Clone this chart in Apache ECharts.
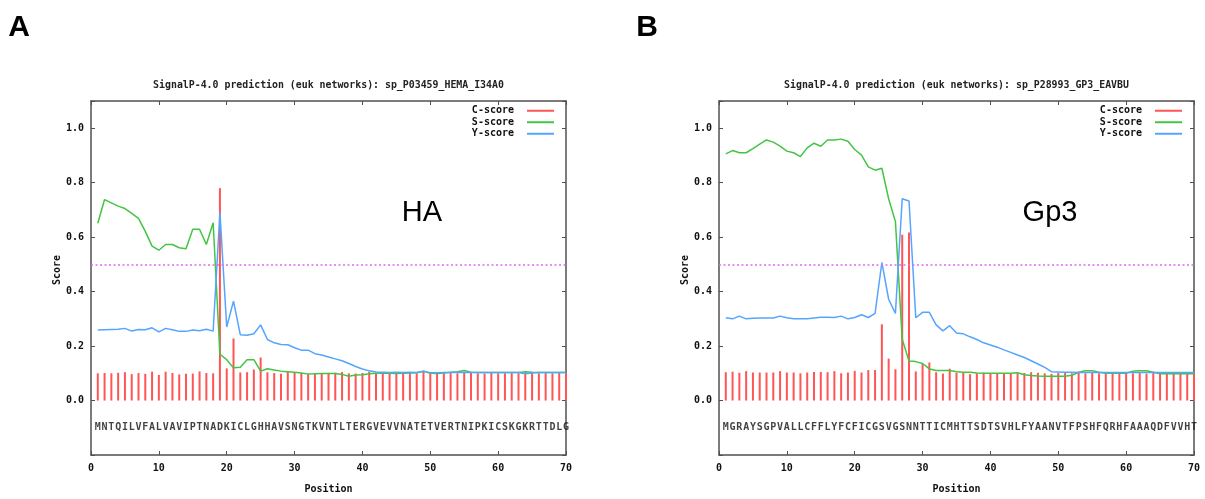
<!DOCTYPE html>
<html>
<head>
<meta charset="utf-8">
<title>SignalP-4.0 prediction</title>
<script src="https://cdn.jsdelivr.net/npm/echarts@6/dist/echarts.min.js"></script>
<style>
    html, body { margin: 0; padding: 0; background: #fff; }
    #chart { width: 1205px; height: 499px; }
</style>
</head>
<body>
<div id="chart"></div>
<script>
    // ---- data ----
    let xTicks = [0, 10, 20, 30, 40, 50, 60, 70];
    let yTicks = [0.0, 0.2, 0.4, 0.6, 0.8, 1.0];
    let threshold = 0.5;
    let seqLevel = -0.1;

    // panel A: HA
    let titleA = 'SignalP-4.0 prediction (euk networks): sp_P03459_HEMA_I34A0';
    let seqA = 'MNTQILVFALVAVIPTNADKICLGHHAVSNGTKVNTLTERGVEVVNATETVERTNIPKICSKGKRTTDLG';
    let cScoreA = [0.100, 0.101, 0.100, 0.102, 0.104, 0.097, 0.101, 0.098, 0.106, 0.094,
        0.106, 0.101, 0.096, 0.098, 0.099, 0.107, 0.101, 0.100, 0.780, 0.118,
        0.228, 0.103, 0.104, 0.114, 0.158, 0.104, 0.101, 0.098, 0.105, 0.102,
        0.101, 0.099, 0.100, 0.098, 0.100, 0.102, 0.105, 0.100, 0.099, 0.101,
        0.106, 0.100, 0.104, 0.099, 0.100, 0.105, 0.101, 0.100, 0.110, 0.101,
        0.099, 0.100, 0.101, 0.100, 0.104, 0.104, 0.100, 0.099, 0.101, 0.100,
        0.100, 0.101, 0.100, 0.104, 0.104, 0.100, 0.101, 0.100, 0.101, 0.100];
    let sScoreA = [0.651, 0.738, 0.726, 0.714, 0.705, 0.687, 0.669, 0.621, 0.567, 0.552,
        0.573, 0.573, 0.561, 0.557, 0.629, 0.629, 0.573, 0.653, 0.170, 0.150,
        0.120, 0.122, 0.150, 0.150, 0.108, 0.117, 0.112, 0.108, 0.106, 0.104,
        0.101, 0.097, 0.098, 0.099, 0.099, 0.099, 0.096, 0.089, 0.094, 0.095,
        0.098, 0.100, 0.100, 0.100, 0.099, 0.100, 0.101, 0.102, 0.107, 0.100,
        0.099, 0.101, 0.104, 0.106, 0.110, 0.104, 0.103, 0.103, 0.103, 0.103,
        0.103, 0.103, 0.103, 0.106, 0.104, 0.103, 0.103, 0.103, 0.103, 0.103];
    let yScoreA = [0.259, 0.260, 0.261, 0.262, 0.265, 0.255, 0.261, 0.260, 0.267, 0.252,
        0.265, 0.260, 0.254, 0.254, 0.259, 0.256, 0.262, 0.255, 0.690, 0.270,
        0.365, 0.242, 0.240, 0.245, 0.278, 0.224, 0.212, 0.206, 0.205, 0.194,
        0.185, 0.185, 0.172, 0.167, 0.160, 0.153, 0.146, 0.136, 0.125, 0.116,
        0.109, 0.105, 0.104, 0.103, 0.104, 0.103, 0.104, 0.103, 0.108, 0.102,
        0.102, 0.103, 0.103, 0.103, 0.104, 0.103, 0.103, 0.103, 0.103, 0.103,
        0.103, 0.103, 0.103, 0.098, 0.101, 0.103, 0.103, 0.103, 0.103, 0.103];

    // panel B: Gp3
    let titleB = 'SignalP-4.0 prediction (euk networks): sp_P28993_GP3_EAVBU';
    let seqB = 'MGRAYSGPVALLCFFLYFCFICGSVGSNNTTICMHTTSDTSVHLFYAANVTFPSHFQRHFAAAQDFVVHT';
    let cScoreB = [0.104, 0.106, 0.102, 0.108, 0.103, 0.103, 0.103, 0.103, 0.108, 0.103,
        0.103, 0.100, 0.103, 0.105, 0.105, 0.104, 0.108, 0.100, 0.103, 0.109,
        0.103, 0.112, 0.112, 0.280, 0.154, 0.115, 0.609, 0.617, 0.107, 0.134,
        0.140, 0.104, 0.099, 0.117, 0.102, 0.104, 0.097, 0.100, 0.102, 0.098,
        0.100, 0.097, 0.101, 0.100, 0.101, 0.104, 0.102, 0.100, 0.098, 0.101,
        0.101, 0.100, 0.104, 0.100, 0.101, 0.100, 0.100, 0.101, 0.100, 0.101,
        0.100, 0.101, 0.099, 0.101, 0.100, 0.101, 0.100, 0.101, 0.100, 0.101];
    let sScoreB = [0.906, 0.918, 0.910, 0.910, 0.925, 0.942, 0.957, 0.949, 0.934, 0.916,
        0.910, 0.896, 0.928, 0.945, 0.934, 0.957, 0.957, 0.960, 0.952, 0.922,
        0.901, 0.858, 0.846, 0.853, 0.741, 0.657, 0.225, 0.145, 0.143, 0.136,
        0.116, 0.110, 0.110, 0.110, 0.106, 0.104, 0.104, 0.101, 0.100, 0.100,
        0.100, 0.100, 0.100, 0.102, 0.095, 0.092, 0.090, 0.089, 0.089, 0.089,
        0.089, 0.093, 0.104, 0.109, 0.109, 0.104, 0.100, 0.100, 0.100, 0.100,
        0.108, 0.109, 0.109, 0.104, 0.098, 0.098, 0.098, 0.098, 0.098, 0.098];
    let yScoreB = [0.304, 0.300, 0.310, 0.300, 0.302, 0.303, 0.303, 0.303, 0.310, 0.304,
        0.300, 0.300, 0.300, 0.303, 0.306, 0.306, 0.305, 0.310, 0.300, 0.305,
        0.315, 0.305, 0.320, 0.507, 0.372, 0.320, 0.741, 0.733, 0.304, 0.324,
        0.324, 0.278, 0.256, 0.275, 0.248, 0.245, 0.234, 0.224, 0.212, 0.204,
        0.196, 0.186, 0.177, 0.167, 0.158, 0.146, 0.134, 0.122, 0.106, 0.105,
        0.104, 0.104, 0.103, 0.103, 0.103, 0.103, 0.103, 0.103, 0.103, 0.103,
        0.103, 0.103, 0.103, 0.103, 0.103, 0.103, 0.103, 0.103, 0.103, 0.103];

    let legendNames = ['C-score', 'S-score', 'Y-score'];
    let colors = {c: '#ff5555', s: '#44c444', y: '#55a5ff', thr: '#dc6cf0', border: '#505050'};
    let monoFont = '"DejaVu Sans Mono", monospace';

    // ---- build the option ----
    let chart = echarts.init(document.getElementById('chart'), null, {renderer: 'canvas'});

    let panels = [
        {left: 91, title: titleA, seq: seqA, c: cScoreA, s: sScoreA, y: yScoreA, tag: 'A', note: 'HA'},
        {left: 719, title: titleB, seq: seqB, c: cScoreB, s: sScoreB, y: yScoreB, tag: 'B', note: 'Gp3'}
    ];
    let plotW = 475, plotTop = 101, plotH = 361;

    function toPairs(values) {
        return values.map(function (v, i) { return [i + 1, v]; });
    }

    let grids = [], xAxes = [], yAxes = [], series = [], legends = [], graphics = [];
    let axisLine = {onZero: false, lineStyle: {color: colors.border, width: 1.5}};
    let tick = {inside: true, length: 4, lineStyle: {color: colors.border, width: 1}};
    let labelFont = {fontFamily: monoFont, fontSize: 10, fontWeight: 'bold', color: '#111'};

    panels.forEach(function (p, gi) {
        grids.push({left: p.left, top: plotTop, width: plotW, height: plotH});

        let xBase = {type: 'value', gridIndex: gi, min: xTicks[0], max: xTicks[xTicks.length - 1],
            interval: xTicks[1] - xTicks[0], axisLine: axisLine, axisTick: tick, splitLine: {show: false}};
        xAxes.push(Object.assign({}, xBase, {
            position: 'bottom',
            axisLabel: Object.assign({margin: 8}, labelFont),
            name: 'Position', nameLocation: 'middle', nameGap: 29,
            nameTextStyle: labelFont
        }));
        xAxes.push(Object.assign({}, xBase, {position: 'top', axisLabel: {show: false}}));

        let yBase = {type: 'value', gridIndex: gi, min: -0.2, max: 1.1,
            interval: yTicks[1] - yTicks[0], axisLine: axisLine, axisTick: tick, splitLine: {show: false}};
        yAxes.push(Object.assign({}, yBase, {
            position: 'left',
            axisLabel: Object.assign({
                margin: 7,
                formatter: function (v) {
                    return (v < yTicks[0] - 0.05 || v > yTicks[yTicks.length - 1] + 0.05) ? '' : v.toFixed(1);
                }
            }, labelFont)
        }));
        yAxes.push(Object.assign({}, yBase, {position: 'right', axisLabel: {show: false}}));

        let xi = gi * 2, yi = gi * 2;
        series.push({
            name: 'C-score', type: 'bar', xAxisIndex: xi, yAxisIndex: yi, barWidth: 2,
            itemStyle: {color: colors.c}, data: toPairs(p.c), silent: true
        });
        series.push({
            name: 'S-score', type: 'line', xAxisIndex: xi, yAxisIndex: yi, symbol: 'none',
            lineStyle: {color: colors.s, width: 1.5}, itemStyle: {color: colors.s},
            data: toPairs(p.s), silent: true,
            markLine: {
                silent: true, symbol: ['none', 'none'], label: {show: false},
                lineStyle: {color: colors.thr, type: [2, 2.5], width: 1.5},
                data: [{yAxis: threshold}]
            }
        });
        series.push({
            name: 'Y-score', type: 'line', xAxisIndex: xi, yAxisIndex: yi, symbol: 'none',
            lineStyle: {color: colors.y, width: 1.5}, itemStyle: {color: colors.y},
            data: toPairs(p.y), silent: true
        });
        // sequence letters under the impulses
        series.push({
            type: 'scatter', xAxisIndex: xi, yAxisIndex: yi, symbolSize: 0, silent: true,
            data: p.seq.split('').map(function (ch, i) { return [i + 1, seqLevel, ch]; }),
            label: Object.assign({
                show: true, position: 'inside', color: '#000',
                formatter: function (d) { return d.value[2]; }
            }, labelFont)
        });

        legends.push({
            orient: 'vertical', right: 1205 - (p.left + plotW - 12), top: 105, padding: 0,
            align: 'right', icon: 'rect', itemWidth: 27, itemHeight: 2, itemGap: 0, itemTextGap: 13,
            selectedMode: false,
            textStyle: Object.assign({lineHeight: 11.5, padding: [0, 8, 0, 0]}, labelFont),
            data: legendNames
        });

        graphics.push({
            type: 'text', x: p.left + plotW / 2, y: 85,
            style: {text: p.title, align: 'center', verticalAlign: 'middle',
                font: 'bold 9.9px ' + monoFont, fill: '#222'}
        });
        graphics.push({
            type: 'text', x: p.left - 34, y: 270, rotation: Math.PI / 2,
            style: {text: 'Score', align: 'center', verticalAlign: 'middle',
                font: 'bold 10px ' + monoFont, fill: '#111'}
        });
        graphics.push({
            type: 'text', x: p.left - 72, y: 28,
            style: {text: p.tag, align: 'center', verticalAlign: 'middle',
                font: 'bold 30px "Liberation Sans", Arial, sans-serif', fill: '#000'}
        });
        graphics.push({
            type: 'text', x: p.left + 331, y: 213,
            style: {text: p.note, align: 'center', verticalAlign: 'middle',
                font: '29px "Liberation Sans", Arial, sans-serif', fill: '#000'}
        });
    });

    chart.setOption({
        animation: false,
        backgroundColor: '#fff',
        grid: grids,
        xAxis: xAxes,
        yAxis: yAxes,
        legend: legends,
        series: series,
        graphic: graphics
    });
</script>
</body>
</html>
